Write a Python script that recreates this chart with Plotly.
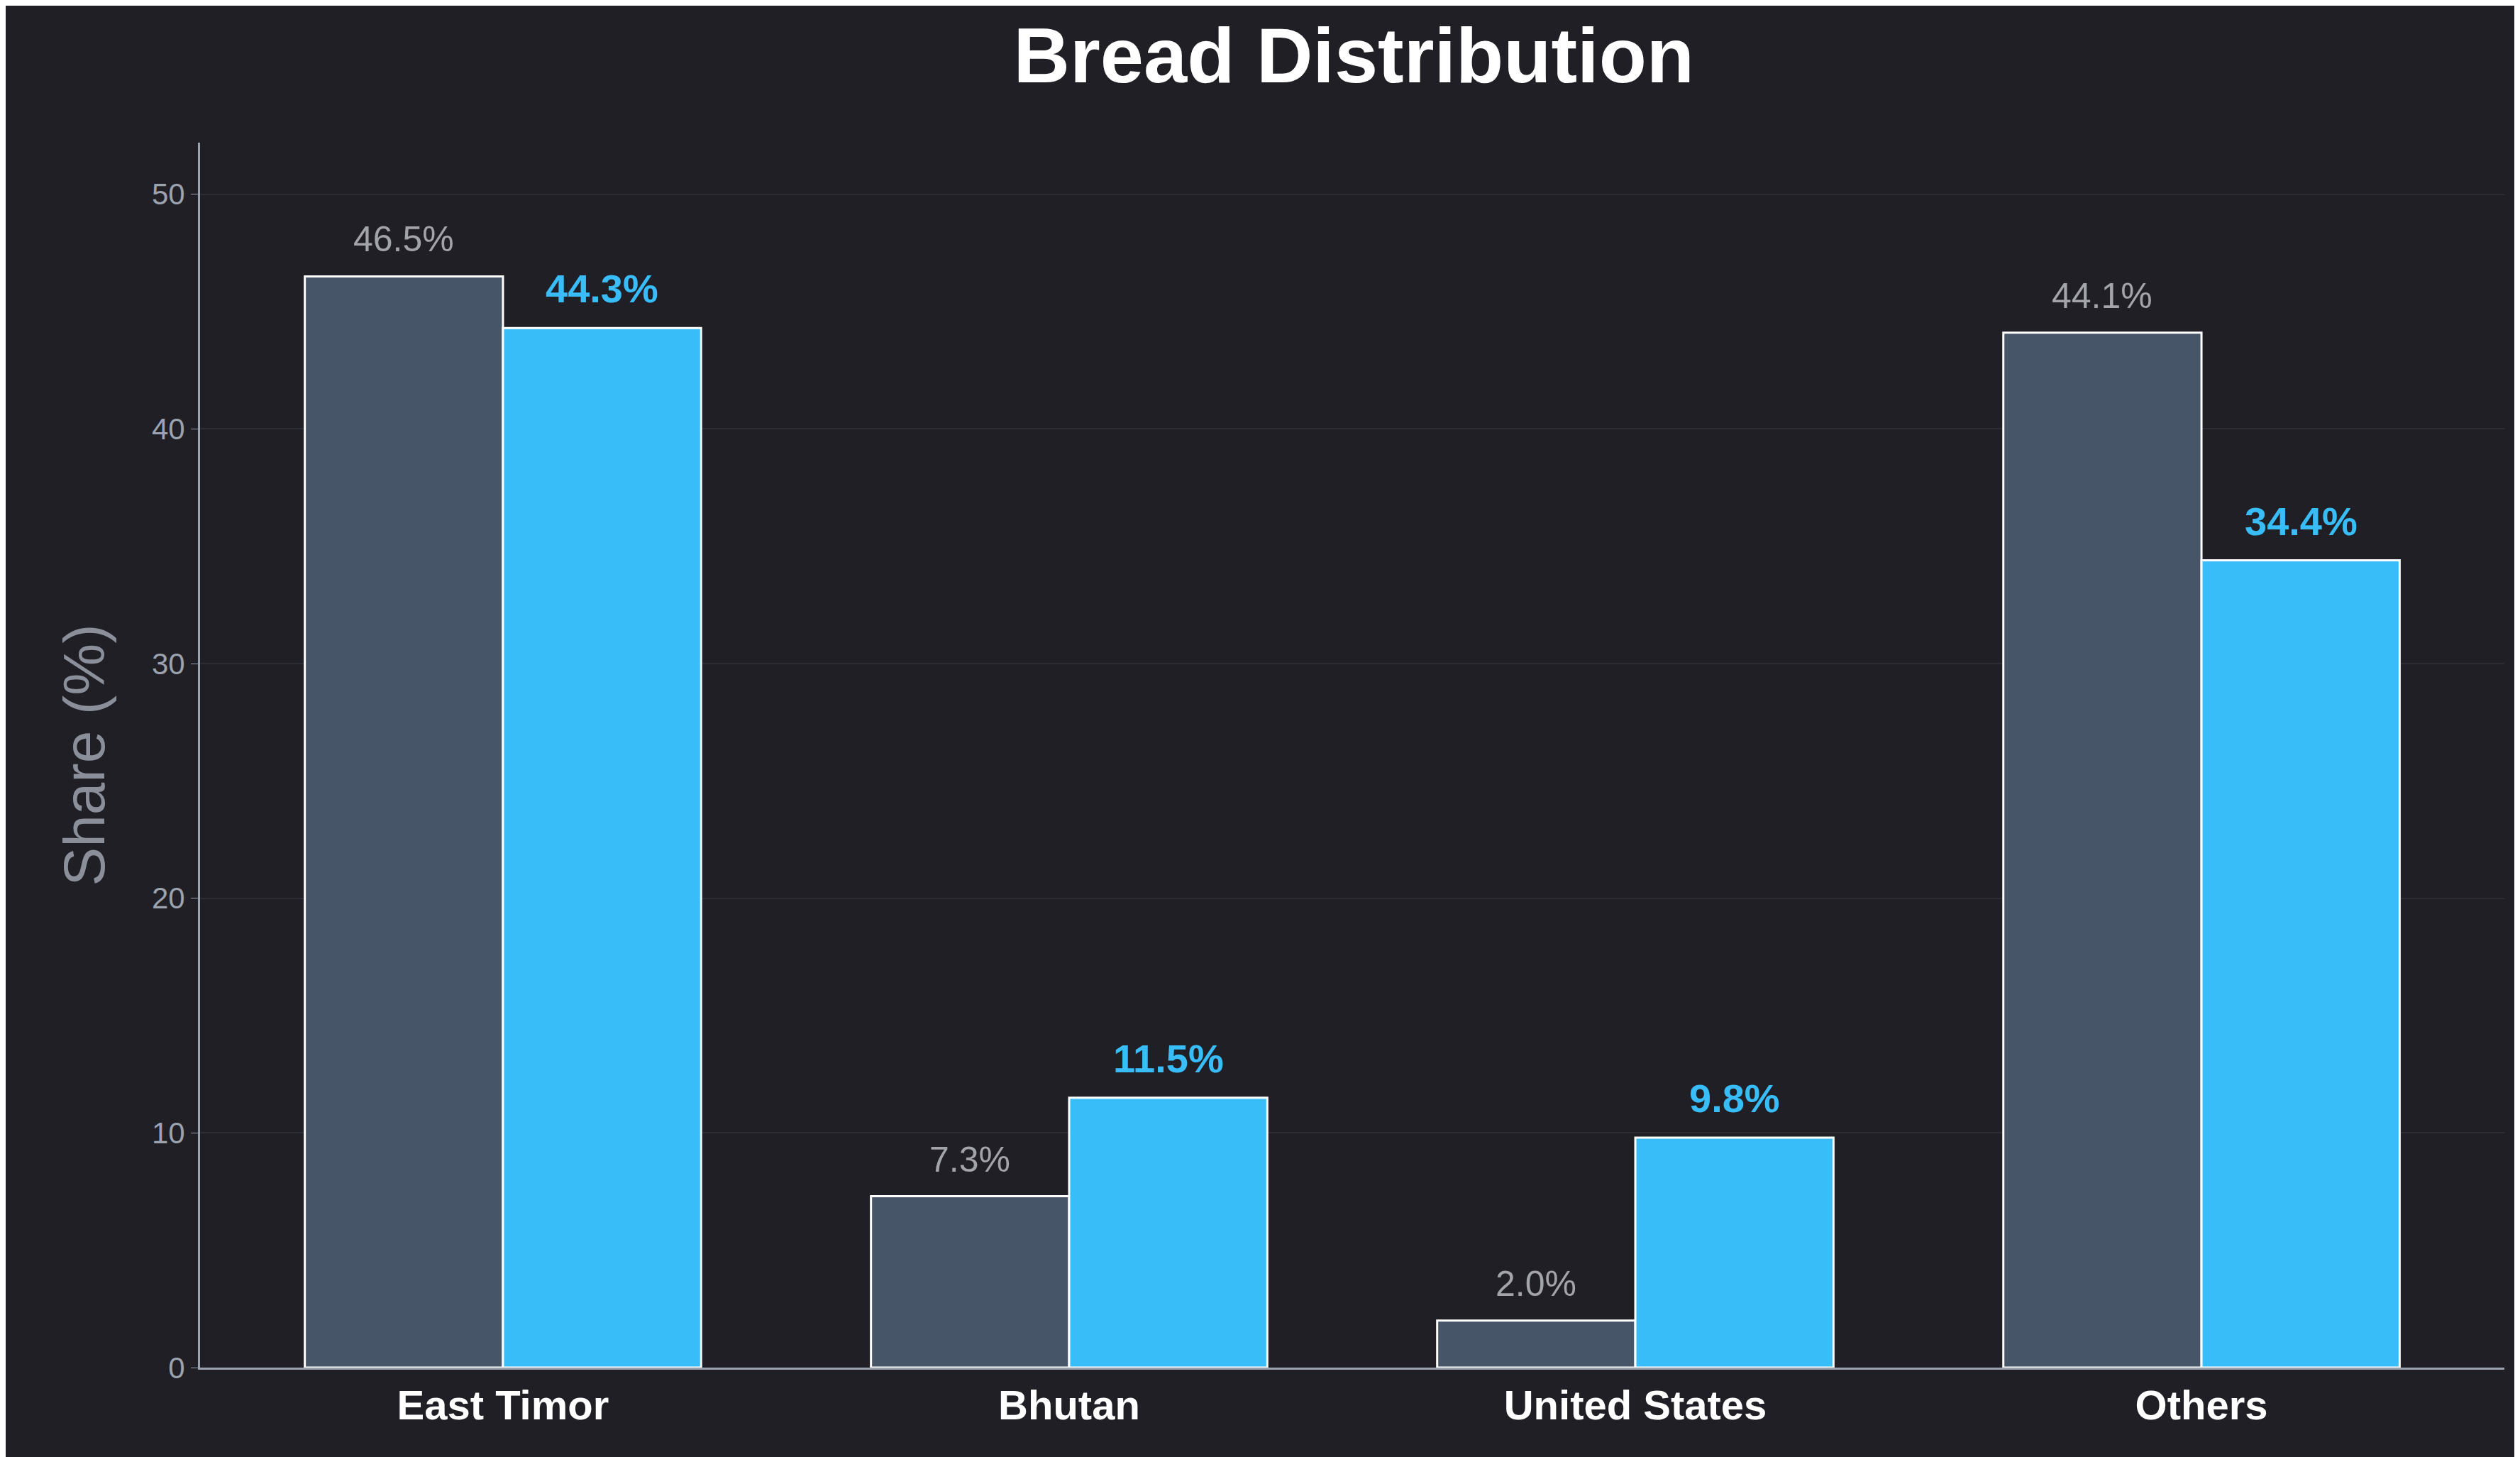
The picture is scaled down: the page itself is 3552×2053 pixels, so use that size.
import plotly.graph_objects as go

categories = ["East Timor", "Bhutan", "United States", "Others"]
series_a = [46.5, 7.3, 2.0, 44.1]
series_b = [44.3, 11.5, 9.8, 34.4]

bg = "#1f1f25"
fig = go.Figure()
fig.add_trace(go.Bar(
    x=categories, y=series_a, name="A",
    marker=dict(color="#475569", line=dict(color="white", width=3))))
fig.add_trace(go.Bar(
    x=categories, y=series_b, name="B",
    marker=dict(color="#38bdf8", line=dict(color="white", width=3))))

for c, a, b in zip(categories, series_a, series_b):
    fig.add_annotation(x=c, y=a, xshift=-140, yshift=22, yanchor="bottom", showarrow=False,
                       text=f"{a:.1f}%", font=dict(color="#a3a3aa", size=50, family="Liberation Sans"))
    fig.add_annotation(x=c, y=b, xshift=140, yshift=22, yanchor="bottom", showarrow=False,
                       text=f"<b>{b:.1f}%</b>", font=dict(color="#38bdf8", size=56, family="Liberation Sans"))

fig.update_layout(
    width=3552, height=2053,
    barmode="group", bargap=0.3, bargroupgap=0,
    paper_bgcolor=bg, plot_bgcolor=bg,
    showlegend=False,
    margin=dict(l=274, r=30, t=193, b=134),
    title=dict(text="<b>Bread Distribution</b>", x=0.535, xanchor="center", y=0.985, yanchor="top",
               font=dict(size=110, color="white", family="Liberation Sans")),
    font=dict(family="Liberation Sans"),
)
fig.update_xaxes(showline=True, linecolor="#9ca3af", linewidth=3, range=[-0.535, 3.535],
                 tickfont=dict(size=58, color="white", family="Liberation Sans"),
                 tickprefix="<b>", ticksuffix="</b>", ticks="")
fig.update_yaxes(range=[0, 52.2], dtick=10, showline=True, linecolor="#9ca3af", linewidth=3,
                 gridcolor="#2c2c34", gridwidth=2, zeroline=False,
                 ticks="outside", ticklen=10, tickcolor="#9ca3af",
                 tickfont=dict(size=42, color="#9ca3af"),
                 title=dict(text="Share (%)", font=dict(size=82, color="#8b8f99"), standoff=40))
fig.write_html("out.html")
